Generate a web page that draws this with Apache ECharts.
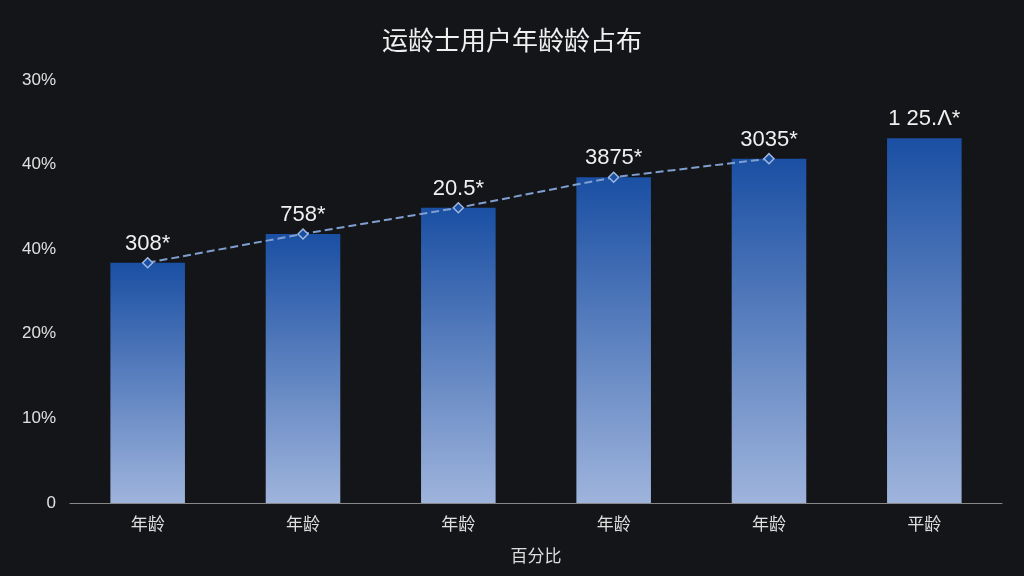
<!DOCTYPE html>
<html><head><meta charset="utf-8">
<script src="https://cdn.jsdelivr.net/npm/echarts@6/dist/echarts.min.js"></script>
<style>html,body{margin:0;background:#141518}#c{width:1024px;height:576px}</style>
</head><body><div id="c"></div>
<script>
const categories=['年龄','年龄','年龄','年龄','年龄','平龄'];
const barValues=[2.84,3.18,3.49,3.85,4.07,4.31];
const barLabels=['308*','758*','20.5*','3875*','3035*','1 25.Ʌ*'];
const lineValues=[2.84,3.18,3.49,3.85,4.07,null];
const yTickLabels=['0','10%','20%','40%','40%','30%'];
const chart=echarts.init(document.getElementById('c'));
chart.setOption({
  backgroundColor:'#141518',
  title:{text:'运龄士用户年龄龄占布',left:'center',top:22,textStyle:{color:'#f0f0f0',fontSize:26,fontWeight:'normal',fontFamily:'Noto Sans CJK SC'}},
  grid:{left:70,right:22,top:80,bottom:73},
  xAxis:{type:'category',data:categories,name:'百分比',nameLocation:'middle',nameGap:44,
    nameTextStyle:{color:'#ddd',fontSize:17,fontFamily:'Noto Sans CJK SC'},
    axisLine:{lineStyle:{color:'#888'}},axisTick:{lineStyle:{color:'#888'}},
    axisLabel:{color:'#e0e0e0',fontSize:17,margin:12,fontFamily:'Noto Sans CJK SC'}},
  yAxis:{type:'value',min:0,max:5,interval:1,splitLine:{show:false},
    axisLabel:{color:'#e0e0e0',fontSize:17,margin:14,formatter:v=>yTickLabels[Math.round(v)]}},
  series:[{type:'bar',data:barValues,barWidth:'48%',
    itemStyle:{color:new echarts.graphic.LinearGradient(0,0,0,1,[{offset:0,color:'#1a4fa3'},{offset:1,color:'#9fb4dc'}])},
    label:{show:true,position:'top',distance:8,color:'#f0f0f0',fontSize:22,formatter:p=>barLabels[p.dataIndex]}},
   {type:'line',data:lineValues,symbol:'diamond',symbolSize:10,
    lineStyle:{color:'#7f9fd0',width:2,type:'dashed'},itemStyle:{color:'#1a4fa3',borderColor:'#9fb8e0',borderWidth:1.5}}]
});
</script></body></html>
